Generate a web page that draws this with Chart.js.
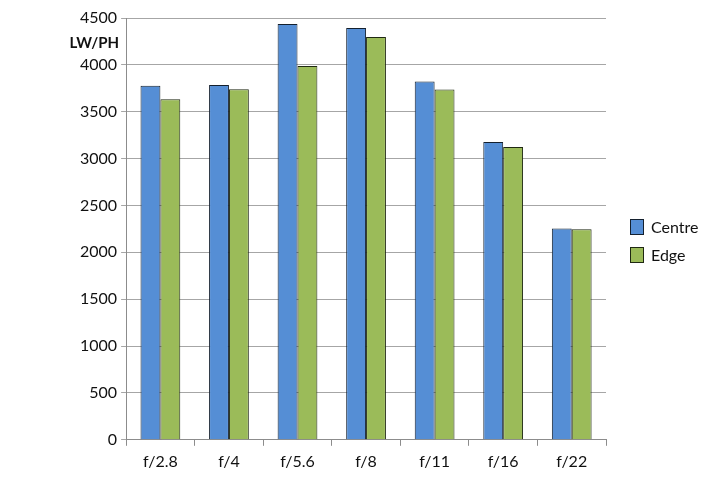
<!DOCTYPE html>
<html>
<head>
<meta charset="utf-8">
<script src="https://cdn.jsdelivr.net/npm/chart.js@4/dist/chart.umd.min.js"></script>
<style>
  html, body { margin: 0; padding: 0; background: #fff; }
  #wrap { position: relative; width: 720px; height: 490px; }
  .legend-item { position: absolute; left: 630px; height: 16px; font: 16px Lato, "Open Sans", sans-serif; color: #111; }
  .legend-item span.box { position: absolute; left: 0; top: 0; width: 12px; height: 14px; border: 1px solid #1b2b40; }
  .legend-item span.txt { position: absolute; left: 21px; top: -2px; white-space: nowrap; line-height: 20px; }
</style>
</head>
<body>
<div id="wrap">
  <canvas id="chart" width="720" height="490"></canvas>
  <div id="legend"></div>
</div>
<script>
// apertures and measured resolution (LW/PH)
const apertures = ['f/2.8', 'f/4', 'f/5.6', 'f/8', 'f/11', 'f/16', 'f/22'];
const centreValues = [3776, 3784, 4436, 4393, 3823, 3178, 2255];
const edgeValues = [3634, 3741, 3987, 4297, 3737, 3124, 2245];
const yTicks = [0, 500, 1000, 1500, 2000, 2500, 3000, 3500, 4000, 4500];

const fontFamily = 'Lato, "Open Sans", sans-serif';

// axis title drawn horizontally above the top ticks, like the original
const axisTitle = {
    id: 'axisTitle',
    afterDraw(chart) {
        const ctx = chart.ctx;
        const y = chart.scales.y;
        ctx.save();
        ctx.font = 'bold 15px ' + fontFamily;
        ctx.fillStyle = '#111';
        ctx.textAlign = 'right';
        ctx.textBaseline = 'middle';
        ctx.fillText('LW/PH', y.right - 7, y.getPixelForValue(4250) + 2);
        ctx.restore();
    }
};

const chart = new Chart(document.getElementById('chart'), {
    type: 'bar',
    data: {
        labels: apertures,
        datasets: [{
            label: 'Centre',
            data: centreValues,
            backgroundColor: '#558ed5',
            borderColor: '#14202e',
            borderWidth: 1,
            categoryPercentage: 0.58,
            barPercentage: 1.0
        }, {
            label: 'Edge',
            data: edgeValues,
            backgroundColor: '#9bbb59',
            borderColor: '#1f2812',
            borderWidth: 1,
            categoryPercentage: 0.58,
            barPercentage: 1.0
        }]
    },
    options: {
        responsive: false,
        animation: false,
        layout: { padding: { left: 76, right: 114, top: 18, bottom: 13 } },
        plugins: {
            legend: { display: false },
            tooltip: { enabled: false }
        },
        scales: {
            x: {
                grid: {
                    drawOnChartArea: false,
                    drawTicks: true,
                    tickLength: 6,
                    color: '#8c8c8c',
                    offset: true
                },
                border: { color: '#8c8c8c' },
                ticks: {
                    color: '#111',
                    padding: 6,
                    font: { family: fontFamily, size: 16 }
                }
            },
            y: {
                min: 0,
                max: 4500,
                afterBuildTicks(axis) {
                    axis.ticks = yTicks.map(v => ({ value: v }));
                },
                grid: {
                    color: '#a6a6a6',
                    tickLength: 5
                },
                border: { color: '#8c8c8c' },
                ticks: {
                    color: '#111',
                    padding: 4,
                    font: { family: fontFamily, size: 16 },
                    callback: value => String(value)
                }
            }
        }
    },
    plugins: [axisTitle]
});

// legend to the right of the plot, built from the datasets
const legend = document.getElementById('legend');
chart.data.datasets.forEach((ds, i) => {
    const item = document.createElement('div');
    item.className = 'legend-item';
    item.style.top = (219 + i * 28) + 'px';
    item.innerHTML = '<span class="box"></span><span class="txt"></span>';
    item.querySelector('.box').style.background = ds.backgroundColor;
    item.querySelector('.box').style.borderColor = ds.borderColor;
    item.querySelector('.txt').textContent = ds.label;
    legend.appendChild(item);
});
</script>
</body>
</html>
